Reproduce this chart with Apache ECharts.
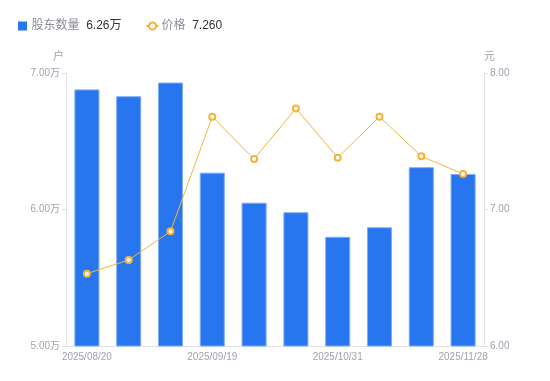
<!DOCTYPE html>
<html><head><meta charset="utf-8">
<script src="https://cdn.jsdelivr.net/npm/echarts@6/dist/echarts.min.js"></script>
<style>html,body{margin:0;padding:0;background:#fff}#c{width:550px;height:381px}</style>
</head><body><div id="c"></div>
<script>
const categories = ['2025/08/20','2025/08/29','2025/09/10','2025/09/19','2025/09/30','2025/10/20','2025/10/31','2025/11/10','2025/11/20','2025/11/28'];
const holders = [6.88, 6.83, 6.93, 6.27, 6.05, 5.98, 5.80, 5.87, 6.31, 6.26]; // 万户
const prices = [6.53, 6.63, 6.84, 7.68, 7.37, 7.74, 7.38, 7.68, 7.39, 7.26];
const leftTicks = [5, 6, 7];
const rightTicks = [6, 7, 8];

const font = '"Liberation Sans", "Noto Sans CJK SC", sans-serif';
const chart = echarts.init(document.getElementById('c'), null, {renderer: 'canvas'});
const lastH = holders[holders.length - 1].toFixed(2) + '万';
const lastP = prices[prices.length - 1].toFixed(3);
chart.setOption({
  animation: false,
  textStyle: {fontFamily: font},
  legend: {
    left: 13, top: 15, itemWidth: 12, itemHeight: 9, itemGap: 24,
    data: [
      {name: '股东数量', icon: 'path://M0,0h10v10h-10z', itemStyle: {borderWidth: 0}},
      {name: '价格'}
    ],
    formatter: n => n === '股东数量' ? '{n|' + n + '}  {v|' + lastH + '}' : '{n|' + n + '}  {v|' + lastP + '}',
    textStyle: {
      fontFamily: font,
      padding: [0, 0, 0, -2],
      rich: {
        n: {fontSize: 12, color: '#8a8d99', fontFamily: font},
        v: {fontSize: 12, color: '#333', fontFamily: font}
      }
    }
  },
  grid: {left: 66, right: 66, top: 73, bottom: 35},
  xAxis: {
    type: 'category', data: categories,
    axisLine: {lineStyle: {color: '#e3e3e6'}},
    axisTick: {show: false},
    axisLabel: {interval: 2, color: '#a0a3b0', fontSize: 10, margin: 6, fontFamily: font}
  },
  yAxis: [{
    type: 'value', min: leftTicks[0], max: leftTicks[leftTicks.length - 1], interval: 1,
    name: '户', nameGap: 11,
    nameTextStyle: {color: '#a0a3b0', fontSize: 11, align: 'right', padding: [0, 2, 0, 0]},
    axisLine: {show: true, lineStyle: {color: '#e3e3e6'}},
    axisTick: {show: true, length: 4, lineStyle: {color: '#e3e3e6'}},
    splitLine: {show: false},
    axisLabel: {color: '#a0a3b0', fontSize: 10, margin: 6, formatter: v => v.toFixed(2) + '万'}
  }, {
    type: 'value', min: rightTicks[0], max: rightTicks[rightTicks.length - 1], interval: 1,
    name: '元', nameGap: 11,
    nameTextStyle: {color: '#a0a3b0', fontSize: 11, align: 'left'},
    axisLine: {show: true, lineStyle: {color: '#e3e3e6'}},
    axisTick: {show: true, length: 4, lineStyle: {color: '#e3e3e6'}},
    splitLine: {show: false},
    axisLabel: {color: '#a0a3b0', fontSize: 10, margin: 6, formatter: v => v.toFixed(2)}
  }],
  series: [{
    name: '股东数量', type: 'bar', yAxisIndex: 0, data: holders, barWidth: '60%',
    itemStyle: {color: '#2776f0', borderColor: '#80aef5', borderWidth: 1}
  }, {
    name: '价格', type: 'line', yAxisIndex: 1, data: prices,
    symbol: 'emptyCircle', symbolSize: 6,
    lineStyle: {color: '#f7b336', width: 1},
    itemStyle: {color: '#f7b336', borderWidth: 2}
  }]
});
</script></body></html>
